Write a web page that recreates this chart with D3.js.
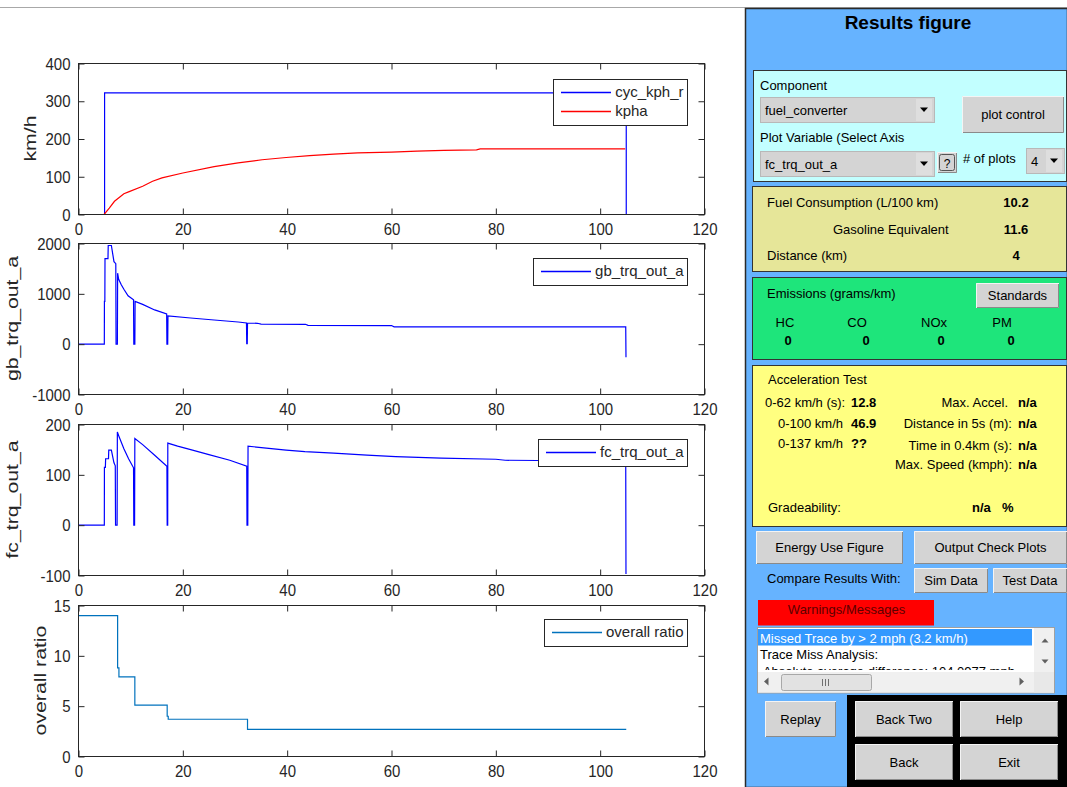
<!DOCTYPE html>
<html>
<head>
<meta charset="utf-8">
<script src="https://cdn.jsdelivr.net/npm/d3@7"></script>
<style>
  html, body { margin: 0; padding: 0; background: #fff; }
  svg { display: block; font-family: "Liberation Sans", Arial, Helvetica, sans-serif; }
</style>
</head>
<body>
<svg id="fig" width="1067" height="787"></svg>
<script>
// ---------------- simulation traces ----------------
const xTicks = [0, 20, 40, 60, 80, 100, 120];

// vehicle speed (km/h)
const cycTime = [0, 5, 5, 105, 105];
const cycKph  = [0, 0, 322, 322, 0];
const kphaTime = [0, 4.9, 5.9, 6.9, 8.7, 9.6, 12.3, 14.2, 16, 20, 26, 30.6, 35.2, 39.8, 44.3, 48.9, 53.5, 60, 64.9, 70, 76.3, 77, 90, 104.8];
const kpha     = [0, 0, 17, 35, 55, 60, 75, 88, 97, 110, 127, 137, 145, 151, 156, 160, 163, 165, 168, 170, 171, 174, 174, 174];
const speedTicks = [0, 100, 200, 300, 400];

// gearbox output torque
const gbTime = [0, 4.95, 4.97, 5.05, 5.08, 5.65, 5.7, 6.3, 6.8, 7.15, 7.2, 7.45, 7.5, 7.7, 8.2, 8.7, 9.5, 10.55, 10.6, 10.8, 10.85, 12.3, 14.6, 16.9, 16.95, 17.1, 17.15, 21.5, 26, 30.6, 32.2, 32.25, 32.35, 32.4, 34.3, 35, 43.5, 44, 60, 60.5, 104.9, 104.95];
const gbTrq  = [0, 0, 850, 850, 1700, 1700, 1960, 1960, 1640, 1600, 0, 0, 1410, 1290, 1180, 1090, 960, 880, 0, 0, 850, 790, 680, 600, 0, 0, 560, 520, 480, 440, 420, 10, 10, 420, 415, 400, 395, 375, 370, 345, 345, -260];
const gbTicks = [-1000, 0, 1000, 2000];

// engine output torque
const fcTime = [0, 4.95, 4.97, 5.15, 5.2, 5.75, 5.8, 6.3, 6.8, 7.05, 7.1, 7.4, 7.45, 7.8, 8.7, 9.6, 10.55, 10.6, 10.75, 10.8, 12.3, 14.6, 16.95, 17.0, 17.1, 17.12, 19, 21.5, 25, 29, 32.25, 32.3, 32.45, 32.5, 36, 39.8, 43.4, 48.9, 55.3, 60.8, 69.5, 80, 81.8, 104.9, 104.95];
const fcTrq  = [0, 0, 115, 115, 132, 132, 149, 149, 124, 118, 0, 0, 185, 175, 152, 132, 114, 0, 0, 172, 160, 139, 117, 0, 0, 163, 157, 150, 140, 129, 117, 0, 0, 157, 153, 149, 146, 143, 139, 136, 133, 131, 129, 127, -97];
const fcTicks = [-100, 0, 100, 200];

// overall gear ratio
const ratioTime = [0, 7.5, 7.5, 7.75, 7.75, 10.8, 10.8, 17.0, 17.0, 17.2, 17.2, 32.4, 32.4, 105];
const ratio     = [14, 14, 8.8, 8.8, 7.9, 7.9, 5.1, 5.1, 4.0, 4.0, 3.7, 3.7, 2.7, 2.7];
const ratioTicks = [0, 5, 10, 15];

// ---------------- summary values ----------------
const fuelLabels  = ["Fuel Consumption (L/100 km)", "Gasoline Equivalent", "Distance (km)"];
const fuelValues  = ["10.2", "11.6", "4"];
const emisLabels  = ["HC", "CO", "NOx", "PM"];
const emisValues  = [0, 0, 0, 0];
const accelLabels = ["0-62 km/h (s):", "0-100 km/h", "0-137 km/h"];
const accelValues = ["12.8", "46.9", "??"];
const perfLabels  = ["Max. Accel.", "Distance in 5s (m):", "Time in 0.4km (s):", "Max. Speed (kmph):"];
const perfValues  = ["n/a", "n/a", "n/a", "n/a"];
const messages    = ["Missed Trace by > 2 mph (3.2 km/h)", "Trace Miss Analysis:", " Absolute average difference: 104.0977 mph"];

// ---------------- figure ----------------
const svg = d3.select("#fig");
svg.append("rect").attr("width", 1067).attr("height", 787).attr("fill", "#fff");
svg.append("line").attr("x1", 0).attr("x2", 1067).attr("y1", 7.5).attr("y2", 7.5)
  .attr("stroke", "#a8a8a8").attr("stroke-width", 1);

const axisColor = "#262626";
const x = d3.scaleLinear().domain([0, 120]).range([78.5, 704.5]);
const plotH = 151;

const plots = [
  { top: 63,  dom: [0, 400],     ticks: speedTicks, label: "km/h",         labelX: 36,
    legendTop: 79,
    series: [ { t: cycTime, v: cycKph, color: "#0000ff", name: "cyc_kph_r" },
              { t: kphaTime, v: kpha, color: "#ff0000", name: "kpha" } ] },
  { top: 243, dom: [-1000, 2000], ticks: gbTicks,   label: "gb_trq_out_a", labelX: 18,
    legendTop: 258,
    series: [ { t: gbTime, v: gbTrq, color: "#0000ff", name: "gb_trq_out_a" } ] },
  { top: 424, dom: [-100, 200],  ticks: fcTicks,    label: "fc_trq_out_a", labelX: 18,
    legendTop: 439,
    series: [ { t: fcTime, v: fcTrq, color: "#0000ff", name: "fc_trq_out_a" } ] },
  { top: 605, dom: [0, 15],      ticks: ratioTicks, label: "overall ratio", labelX: 46,
    legendTop: 619,
    series: [ { t: ratioTime, v: ratio, color: "#0072bd", name: "overall ratio" } ] }
];

const defs = svg.append("defs");
const plainNum = d => String(d);

plots.forEach((p, i) => {
  const y = d3.scaleLinear().domain(p.dom).range([p.top + plotH + 0.5, p.top + 0.5]);
  const g = svg.append("g");

  g.append("rect").attr("x", x(0)).attr("y", p.top + 0.5)
    .attr("width", x(120) - x(0)).attr("height", plotH).attr("fill", "#fff");

  defs.append("clipPath").attr("id", "clip" + i).append("rect")
    .attr("x", x(0)).attr("y", p.top).attr("width", x(120) - x(0)).attr("height", plotH + 1);

  const line = d3.line().x(d => x(d[0])).y(d => y(d[1]));
  p.series.forEach(s => {
    g.append("path").datum(d3.zip(s.t, s.v)).attr("d", line)
      .attr("fill", "none").attr("stroke", s.color).attr("stroke-width", 1.2)
      .attr("clip-path", `url(#clip${i})`);
  });

  // axes with inward ticks on all four sides
  const styleAxis = sel => {
    sel.select(".domain").remove();
    sel.selectAll(".tick line").attr("stroke", axisColor);
    sel.selectAll(".tick text").attr("fill", axisColor).attr("font-size", 15)
      .attr("transform", "scale(1,1.15)");
  };
  g.append("g").attr("transform", `translate(0,${p.top + plotH + 0.5})`)
    .call(d3.axisBottom(x).tickValues(xTicks).tickFormat(plainNum).tickSizeInner(-6).tickSizeOuter(0).tickPadding(7))
    .call(styleAxis);
  g.append("g").attr("transform", `translate(0,${p.top + 0.5})`)
    .call(d3.axisTop(x).tickValues(xTicks).tickSizeInner(-6).tickSizeOuter(0).tickFormat(""))
    .call(styleAxis);
  g.append("g").attr("transform", `translate(${x(0)},0)`)
    .call(d3.axisLeft(y).tickValues(p.ticks).tickFormat(plainNum).tickSizeInner(-6).tickSizeOuter(0).tickPadding(8))
    .call(styleAxis);
  g.append("g").attr("transform", `translate(${x(120)},0)`)
    .call(d3.axisRight(y).tickValues(p.ticks).tickSizeInner(-6).tickSizeOuter(0).tickFormat(""))
    .call(styleAxis);

  g.append("rect").attr("x", x(0)).attr("y", p.top + 0.5)
    .attr("width", x(120) - x(0)).attr("height", plotH)
    .attr("fill", "none").attr("stroke", axisColor).attr("stroke-width", 1);

  // y label
  g.append("text")
    .attr("transform", `translate(${p.labelX},${p.top + plotH / 2}) rotate(-90) scale(1.25,1)`)
    .attr("text-anchor", "middle").attr("font-size", 17).attr("fill", axisColor)
    .text(p.label);

  // legend
  const lg = svg.append("g");
  const names = p.series.map(s => s.name);
  const tmp = lg.selectAll("text.m").data(names).enter().append("text")
    .attr("font-size", 15).text(d => d);
  const maxW = d3.max(tmp.nodes(), n => n.getComputedTextLength());
  tmp.remove();
  const right = 687.5, rowH = 19;
  const textX = right - 4 - maxW;
  const bx = Math.round(textX - 4 - 50 - 8) + 0.5;
  const bh = p.series.length * rowH + 8;
  lg.append("rect").attr("x", bx).attr("y", p.legendTop + 0.5)
    .attr("width", right - bx).attr("height", bh)
    .attr("fill", "#fff").attr("stroke", axisColor).attr("stroke-width", 1);
  p.series.forEach((s, k) => {
    const cy = p.legendTop + 13 + k * rowH;
    lg.append("path").attr("d", `M${bx + 7.5},${cy + 0.5} H${bx + 57.5}`)
      .attr("fill", "none").attr("stroke", s.color).attr("stroke-width", 1.3);
    lg.append("text").attr("x", textX).attr("y", cy + 5)
      .attr("font-size", 15).attr("fill", axisColor).text(s.name);
  });
});

// ---------------- control panel ----------------
const panel = svg.append("g");
const fs = 13;

function txt(xp, yp, s, o = {}) {
  return panel.append("text").attr("x", xp).attr("y", yp)
    .attr("font-size", o.size || fs)
    .attr("font-weight", o.bold ? "bold" : "normal")
    .attr("text-anchor", o.anchor || "start")
    .attr("fill", o.color || "#000")
    .text(s);
}
function button(xp, yp, w, h, label) {
  panel.append("rect").attr("x", xp).attr("y", yp).attr("width", w).attr("height", h).attr("fill", "#d4d4d4");
  panel.append("path").attr("d", `M${xp + 0.5},${yp + h} V${yp + 0.5} H${xp + w}`)
    .attr("fill", "none").attr("stroke", "#f4f4f4");
  panel.append("path").attr("d", `M${xp + 1},${yp + h - 0.5} H${xp + w - 0.5} V${yp + 1}`)
    .attr("fill", "none").attr("stroke", "#8a8a8a");
  if (label) txt(xp + w / 2, yp + h / 2 + 4.5, label, { anchor: "middle" });
}
function dropdown(xp, yp, w, h, label) {
  panel.append("rect").attr("x", xp + 0.5).attr("y", yp + 0.5).attr("width", w).attr("height", h)
    .attr("fill", "#d4d4d4").attr("stroke", "#b8b8b8");
  panel.append("rect").attr("x", xp + w - 18).attr("y", yp + 2).attr("width", 16).attr("height", h - 3)
    .attr("fill", "#dedede");
  const ax = xp + w - 10, ay = yp + h / 2;
  panel.append("path").attr("d", `M${ax - 4},${ay - 2} L${ax + 4},${ay - 2} L${ax},${ay + 2.5} Z`).attr("fill", "#000");
  txt(xp + 5, yp + h / 2 + 5, label);
}

// background
panel.append("rect").attr("x", 745.5).attr("y", 8.5).attr("width", 322).attr("height", 779)
  .attr("fill", "#66b3ff").attr("stroke", "#2a2a2a").attr("stroke-width", 1.5);
txt(908, 29, "Results figure", { size: 19, bold: true, anchor: "middle" });

// component selection
panel.append("rect").attr("x", 753.5).attr("y", 70.5).attr("width", 313).attr("height", 111)
  .attr("fill", "#c2ffff").attr("stroke", "#333").attr("stroke-width", 1);
txt(760, 90, "Component");
dropdown(760, 97, 174, 25, "fuel_converter");
button(962, 96, 102, 37, "plot control");
txt(760, 142, "Plot Variable (Select Axis");
dropdown(760, 151, 174, 25, "fc_trq_out_a");
button(937, 152, 20, 21, null);
panel.append("rect").attr("x", 939.5).attr("y", 154.5).attr("width", 15).attr("height", 16)
  .attr("fill", "none").attr("stroke", "#555").attr("rx", 2);
txt(947, 168, "?", { anchor: "middle", size: 12 });
txt(963, 163, "# of plots");
dropdown(1026, 148, 38, 25, "4");

// fuel consumption
panel.append("rect").attr("x", 752.5).attr("y", 186.5).attr("width", 314).attr("height", 85)
  .attr("fill", "#e6e699").attr("stroke", "#333").attr("stroke-width", 1);
[[767, 207], [833, 233.5], [767, 260]].forEach((pos, i) => {
  txt(pos[0], pos[1], fuelLabels[i]);
  txt(1016, pos[1], fuelValues[i], { bold: true, anchor: "middle" });
});

// emissions
panel.append("rect").attr("x", 752.5).attr("y", 277.5).attr("width", 314).attr("height", 82)
  .attr("fill", "#1ee57b").attr("stroke", "#333").attr("stroke-width", 1);
txt(767, 298, "Emissions (grams/km)");
button(976, 283, 83, 25, "Standards");
const emisLabelX = [785, 857, 934, 1002];
const emisValueX = [788, 866, 941, 1011];
emisLabels.forEach((l, i) => txt(emisLabelX[i], 326.5, l, { anchor: "middle" }));
emisValues.forEach((v, i) => txt(emisValueX[i], 345, v, { anchor: "middle", bold: true }));

// acceleration test
panel.append("rect").attr("x", 752.5).attr("y", 365.5).attr("width", 314).attr("height", 161)
  .attr("fill", "#ffff80").attr("stroke", "#333").attr("stroke-width", 1);
txt(768, 383.5, "Acceleration Test");
const accelX = [765, 778, 778], accelY = [406.5, 428, 448];
accelLabels.forEach((l, i) => {
  txt(accelX[i], accelY[i], l);
  txt(851, accelY[i], accelValues[i], { bold: true });
});
const perfRight = [1008, 1012, 1012, 1012], perfY = [406.5, 428, 450, 468.5];
perfLabels.forEach((l, i) => {
  txt(perfRight[i], perfY[i], l, { anchor: "end" });
  txt(1018, perfY[i], perfValues[i], { bold: true });
});
txt(768, 512, "Gradeability:");
txt(972, 512, "n/a", { bold: true });
txt(1002, 512, "%", { bold: true });

// buttons
button(756, 531, 147, 33, "Energy Use Figure");
button(914, 531, 153, 33, "Output Check Plots");
txt(767, 582.5, "Compare Results With:");
button(914, 568, 74, 25, "Sim Data");
button(993, 568, 74, 25, "Test Data");

// warnings
panel.append("rect").attr("x", 758).attr("y", 600).attr("width", 176).attr("height", 25.5).attr("fill", "#ff0000");
txt(846.5, 613.5, "Warnings/Messages", { anchor: "middle", color: "#5c0000" });

// message list
panel.append("rect").attr("x", 757.5).attr("y", 627.5).attr("width", 297).attr("height", 65.5)
  .attr("fill", "#fff").attr("stroke", "#a0a0a0");
defs.append("clipPath").attr("id", "listclip").append("rect")
  .attr("x", 758).attr("y", 628).attr("width", 276).attr("height", 42);
panel.append("rect").attr("x", 758).attr("y", 629).attr("width", 274).attr("height", 16.5).attr("fill", "#3399ff");
const list = panel.append("g").attr("clip-path", "url(#listclip)");
messages.forEach((m, i) => {
  list.append("text").attr("x", 760).attr("y", 642.5 + i * 16.5)
    .attr("font-size", fs).attr("fill", i === 0 ? "#fff" : "#000")
    .attr("xml:space", "preserve").text(m);
});
// vertical scrollbar
panel.append("rect").attr("x", 1034).attr("y", 628).attr("width", 20).attr("height", 44).attr("fill", "#f0f0f0");
panel.append("path").attr("d", "M1041.5,642.5 L1048.5,642.5 L1045,638.5 Z").attr("fill", "#606060");
panel.append("path").attr("d", "M1041.5,659.5 L1048.5,659.5 L1045,663.5 Z").attr("fill", "#606060");
// horizontal scrollbar
panel.append("rect").attr("x", 758).attr("y", 672).attr("width", 296).attr("height", 20.5).attr("fill", "#f0f0f0");
panel.append("path").attr("d", "M764,681.5 L768.5,677.5 L768.5,685.5 Z").attr("fill", "#606060");
panel.append("path").attr("d", "M1024,681.5 L1019.5,677.5 L1019.5,685.5 Z").attr("fill", "#606060");
panel.append("rect").attr("x", 781.5).attr("y", 674.5).attr("width", 90).attr("height", 16)
  .attr("rx", 2).attr("fill", "#e2e2e2").attr("stroke", "#a8a8a8");
[822, 825, 828].forEach(gx => panel.append("line").attr("x1", gx + 0.5).attr("x2", gx + 0.5)
  .attr("y1", 679).attr("y2", 686).attr("stroke", "#707070"));
panel.append("rect").attr("x", 1034).attr("y", 672).attr("width", 20).attr("height", 20.5).attr("fill", "#e8e8e8");

// navigation
button(765, 701, 71, 36, "Replay");
panel.append("rect").attr("x", 847).attr("y", 695).attr("width", 220).attr("height", 92).attr("fill", "#000");
button(855, 701, 98, 36, "Back Two");
button(960, 701, 98, 36, "Help");
button(855, 744, 98, 36, "Back");
button(960, 744, 98, 36, "Exit");
</script>
</body>
</html>
